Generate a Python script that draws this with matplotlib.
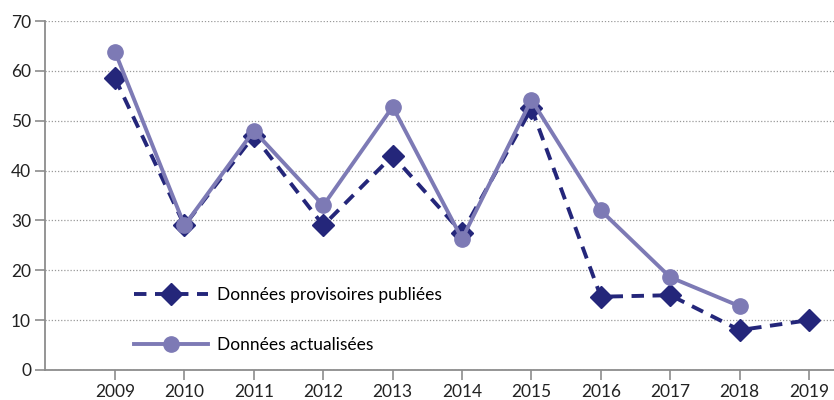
import matplotlib
matplotlib.use("Agg")
import matplotlib.pyplot as plt

years = [2009, 2010, 2011, 2012, 2013, 2014, 2015, 2016, 2017, 2018, 2019]
provisoires = [58.5, 29, 47, 29, 43, 27.5, 52.5, 14.7, 15, 8, 10]
years_act = [2009, 2010, 2011, 2012, 2013, 2014, 2015, 2016, 2017, 2018]
actualisees = [63.8, 29, 48, 33, 52.8, 26.3, 54.2, 32, 18.6, 12.8]
yticks = [0, 10, 20, 30, 40, 50, 60, 70]

plt.rcParams['font.family'] = ['Lato', 'DejaVu Sans']

fig = plt.figure(figsize=(8.34, 4.0), dpi=100)
ax = fig.add_axes([45/834, 30/400, 1 - 45/834, 349/400])

dark = '#24267a'
light = '#7d7ab5'

ax.plot(years, provisoires, color=dark, lw=2.8, ls=(0, (3.2, 2.2)),
        marker='D', ms=11, label='Données provisoires publiées', zorder=3)
ax.plot(years_act, actualisees, color=light, lw=2.8, ls='-',
        marker='o', ms=11, label='Données actualisées', zorder=4)

ax.set_ylim(0, 70)
ax.set_xlim(2007.99, 2019.36)
ax.set_yticks(yticks)
ax.set_xticks(years)
ax.grid(axis='y', color='#999999', ls=(0, (1, 1.5)), lw=0.9)
ax.set_axisbelow(True)
for s in ['top', 'right']:
    ax.spines[s].set_visible(False)
for s in ['left', 'bottom']:
    ax.spines[s].set_color('#8c8c8c')
    ax.spines[s].set_linewidth(1.3)
ax.tick_params(axis='both', colors='#8c8c8c', labelcolor='#222222', labelsize=12.5, width=1.2)
ax.tick_params(axis='y', length=7, pad=3)
ax.tick_params(axis='x', length=7, pad=3)

leg = ax.legend(loc='center left', bbox_to_anchor=(0.0925, 0.143), frameon=False,
                fontsize=12.5, handlelength=4.3, labelspacing=1.94, handletextpad=0.5)

fig.savefig('out.png', dpi=100)
